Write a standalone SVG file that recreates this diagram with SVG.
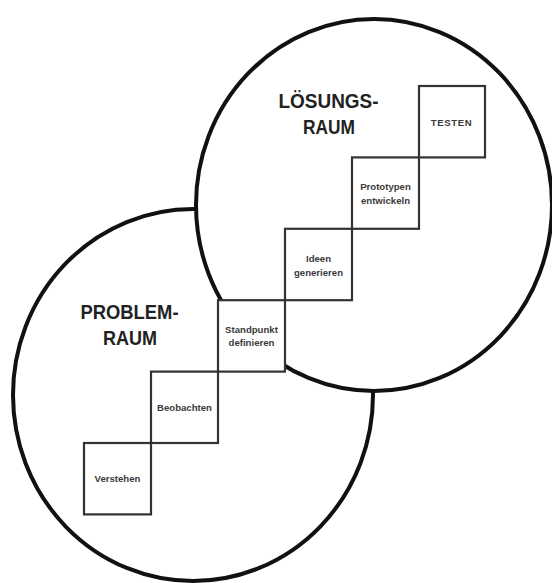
<svg xmlns="http://www.w3.org/2000/svg" width="552" height="583" viewBox="0 0 552 583">
  <style>
    .space { fill: #ffffff; stroke: #111111; stroke-width: 4; }
    .step { fill: #ffffff; stroke: #333333; stroke-width: 2.2; }
    .title { font-family: "Liberation Sans", Arial, sans-serif; font-weight: bold; font-size: 21px; fill: #222222; text-anchor: middle; }
    .label { font-family: "Liberation Sans", Arial, sans-serif; font-weight: bold; font-size: 9.6px; fill: #3a3a3a; text-anchor: middle; }
  </style>

  <!-- problem space (drawn first, partly covered by the solution space) -->
  <g id="problemraum">
    <ellipse class="space" cx="193" cy="395" rx="180" ry="186"/>
    <text class="title" x="129.5" y="319" textLength="98" lengthAdjust="spacingAndGlyphs">PROBLEM-</text>
    <text class="title" x="130" y="345" textLength="54" lengthAdjust="spacingAndGlyphs">RAUM</text>
  </g>

  <!-- solution space -->
  <g id="loesungsraum">
    <ellipse class="space" cx="374" cy="205" rx="178" ry="186"/>
    <text class="title" x="328.5" y="107.5" textLength="100" lengthAdjust="spacingAndGlyphs">LÖSUNGS-</text>
    <text class="title" x="329" y="133.5" textLength="52" lengthAdjust="spacingAndGlyphs">RAUM</text>
  </g>

  <!-- staircase of process steps -->
  <g id="verstehen">
    <rect class="step" x="84" y="443" width="67" height="71.4"/>
    <text class="label" x="117.5" y="481.5">Verstehen</text>
  </g>
  <g id="beobachten">
    <rect class="step" x="151" y="371.6" width="67" height="71.4"/>
    <text class="label" x="184.5" y="410.5">Beobachten</text>
  </g>
  <g id="standpunkt">
    <rect class="step" x="218" y="300.2" width="67" height="71.4"/>
    <text class="label" x="251.5" y="332.5">Standpunkt</text>
    <text class="label" x="251.5" y="346">definieren</text>
  </g>
  <g id="ideen">
    <rect class="step" x="285" y="228.8" width="67" height="71.4"/>
    <text class="label" x="318.5" y="261.5">Ideen</text>
    <text class="label" x="318.5" y="275.5">generieren</text>
  </g>
  <g id="prototypen">
    <rect class="step" x="352" y="157.4" width="67" height="71.4"/>
    <text class="label" x="385.5" y="190">Prototypen</text>
    <text class="label" x="385.5" y="204">entwickeln</text>
  </g>
  <g id="testen">
    <rect class="step" x="419" y="86" width="66" height="71.4"/>
    <text class="label" x="451.5" y="126" letter-spacing="0.6" font-size="10">TESTEN</text>
  </g>
</svg>
